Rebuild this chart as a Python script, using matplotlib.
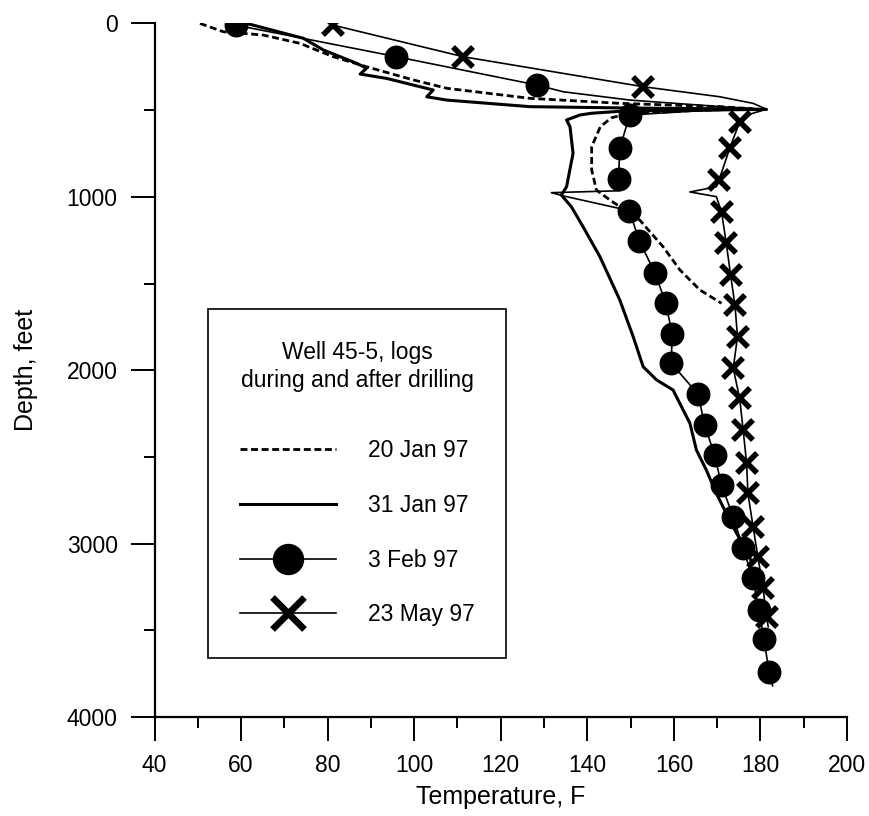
import matplotlib
matplotlib.use('Agg')
import matplotlib.pyplot as plt
from matplotlib.lines import Line2D
from matplotlib.ticker import MultipleLocator

plt.rcParams['font.family'] = ['Liberation Sans', 'DejaVu Sans']

# 20 Jan 97 log (dashed)
jan20_T = [50.5, 55.9, 65.1, 73.6, 81.3, 89.0, 99.8, 107.5, 126.7, 147.6, 170.6, 178.0, 165.0,
           149.0, 145.5, 143.0, 141.0, 141.0, 142.1, 145.2, 152.1, 157.5, 161.4, 166.0, 171.0]
jan20_D = [0, 48, 67, 115, 192, 250, 326, 374, 432, 461, 480, 492, 502,
           522, 545, 596, 711, 845, 961, 1018, 1134, 1288, 1422, 1537, 1614]

# 31 Jan 97 log (solid)
jan31_T = [61.3, 74.4, 79.0, 86.7, 89.0, 87.5, 93.6, 104.4, 102.9, 107.5,
           126.7, 150.0, 170.0, 181.4, 165.0, 148.0, 141.0, 138.3, 135.2, 136.0,
           136.7, 135.2, 134.0, 136.3, 139.0, 142.9, 147.5, 150.6, 152.9, 156.0,
           159.8, 163.7, 165.2, 167.5, 169.8, 172.1, 174.5, 176.8, 178.0]
jan31_D = [0, 86, 153, 230, 259, 292, 317, 384, 423, 442,
           480, 488, 492, 496, 500, 506, 518, 528, 557, 596,
           749, 942, 990, 1057, 1172, 1345, 1595, 1807, 1980, 2056,
           2114, 2306, 2460, 2576, 2710, 2825, 2941, 3037, 3110]

# 3 Feb 97 log: continuous trace and sampled points (circles)
feb3_line_T = [58.8, 95.9, 128.3, 134.4, 149.8, 172.0, 180.5, 165.0, 149.8, 147.5,
               147.2, 147.5, 131.7, 134.5, 149.7, 152.0, 155.6, 158.1, 159.6, 159.4,
               165.6, 167.1, 169.4, 171.0, 173.7, 176.0, 178.2, 179.7, 180.8, 182.0, 182.8]
feb3_line_D = [10, 192, 355, 394, 442, 482, 494, 505, 528, 720,
               898, 965, 976, 995, 1080, 1253, 1438, 1611, 1791, 1960,
               2139, 2316, 2489, 2662, 2845, 3027, 3200, 3383, 3552, 3739, 3820]
feb3_T = [58.8, 95.9, 128.3, 149.8, 147.5, 147.2, 149.7, 152.0, 155.6, 158.1, 159.6,
          159.4, 165.6, 167.1, 169.4, 171.0, 173.7, 176.0, 178.2, 179.7, 180.8, 182.0]
feb3_D = [10, 192, 355, 528, 720, 898, 1080, 1253, 1438, 1611, 1791,
          1960, 2139, 2316, 2489, 2662, 2845, 3027, 3200, 3383, 3552, 3739]

# 23 May 97 log: continuous trace and sampled points (crosses)
may23_line_T = [81.3, 111.3, 152.9, 170.6, 178.3, 181.4, 178.0, 175.2, 172.9, 170.4,
                169.8, 163.7, 169.8, 171.0, 172.1, 173.1, 174.1, 174.7, 173.7, 175.2,
                176.0, 176.8, 177.1, 178.3, 179.4, 180.6, 181.4, 181.8]
may23_line_D = [10, 192, 365, 423, 461, 495, 520, 567, 720, 905,
                942, 972, 999, 1086, 1268, 1451, 1624, 1807, 1989, 2162,
                2345, 2537, 2710, 2903, 3075, 3258, 3422, 3480]
may23_T = [81.3, 111.3, 152.9, 175.2, 172.9, 170.4, 171.0, 172.1, 173.1, 174.1,
           174.7, 173.7, 175.2, 176.0, 176.8, 177.1, 178.3, 179.4, 180.6, 181.4]
may23_D = [10, 192, 365, 567, 720, 905, 1086, 1268, 1451, 1624,
           1807, 1989, 2162, 2345, 2537, 2710, 2903, 3075, 3258, 3422]

labels = ['20 Jan 97', '31 Jan 97', '3 Feb 97', '23 May 97']

fig = plt.figure(figsize=(8.7, 8.16), dpi=100)
ax = fig.add_axes([0.1776, 0.1213, 0.796, 0.850])

l20, = ax.plot(jan20_T, jan20_D, color='black', lw=2.0, ls=(0, (2.5, 1.3)))
l31, = ax.plot(jan31_T, jan31_D, color='black', lw=2.2)
ax.plot(feb3_line_T, feb3_line_D, color='black', lw=1.2)
ax.plot(may23_line_T, may23_line_D, color='black', lw=1.2)
ax.plot(feb3_T, feb3_D, ls='none', marker='o', ms=16.2, color='black', zorder=4)
ax.plot(may23_T, may23_D, ls='none', marker='x', ms=14.5, mew=4.0, color='black', zorder=4)

ax.set_xlim(40, 200)
ax.set_ylim(4000, 0)
ax.xaxis.set_major_locator(MultipleLocator(20))
ax.xaxis.set_minor_locator(MultipleLocator(10))
ax.yaxis.set_major_locator(MultipleLocator(1000))
ax.yaxis.set_minor_locator(MultipleLocator(500))
ax.tick_params(which='major', direction='out', length=17, width=1.4, labelsize=16.5, pad=9.5)
ax.tick_params(which='minor', direction='out', length=8, width=1.4)
for side in ['top', 'right']:
    ax.spines[side].set_visible(False)
for side in ['left', 'bottom']:
    ax.spines[side].set_linewidth(1.6)

ax.set_xlabel('Temperature, F', fontsize=18, va='center')
ax.xaxis.set_label_coords(0.5, -0.116)
ax.set_ylabel('Depth, feet', fontsize=18, va='center')
ax.yaxis.set_label_coords(-0.186, 0.5)

handles = [l20, l31,
           Line2D([], [], color='black', lw=1.2, marker='o', ms=21.6),
           Line2D([], [], color='black', lw=1.2, marker='x', ms=23, mew=4.8)]
leg = ax.legend(handles, labels, loc='upper left', bbox_to_anchor=(0.0773, 0.588),
                borderaxespad=0, fancybox=False, edgecolor='black', framealpha=1,
                fontsize=16.5, title='Well 45-5, logs\nduring and after drilling',
                title_fontsize=16.5, handlelength=4.2, handletextpad=1.38,
                labelspacing=1.38, borderpad=1.38)
leg.get_frame().set_linewidth(1.2)
leg.get_title().set_multialignment('center')
leg.get_title().set_linespacing(1.3)
leg._legend_box.sep = 34  # extra gap between title and entries

fig.savefig('out.png', dpi=100)
